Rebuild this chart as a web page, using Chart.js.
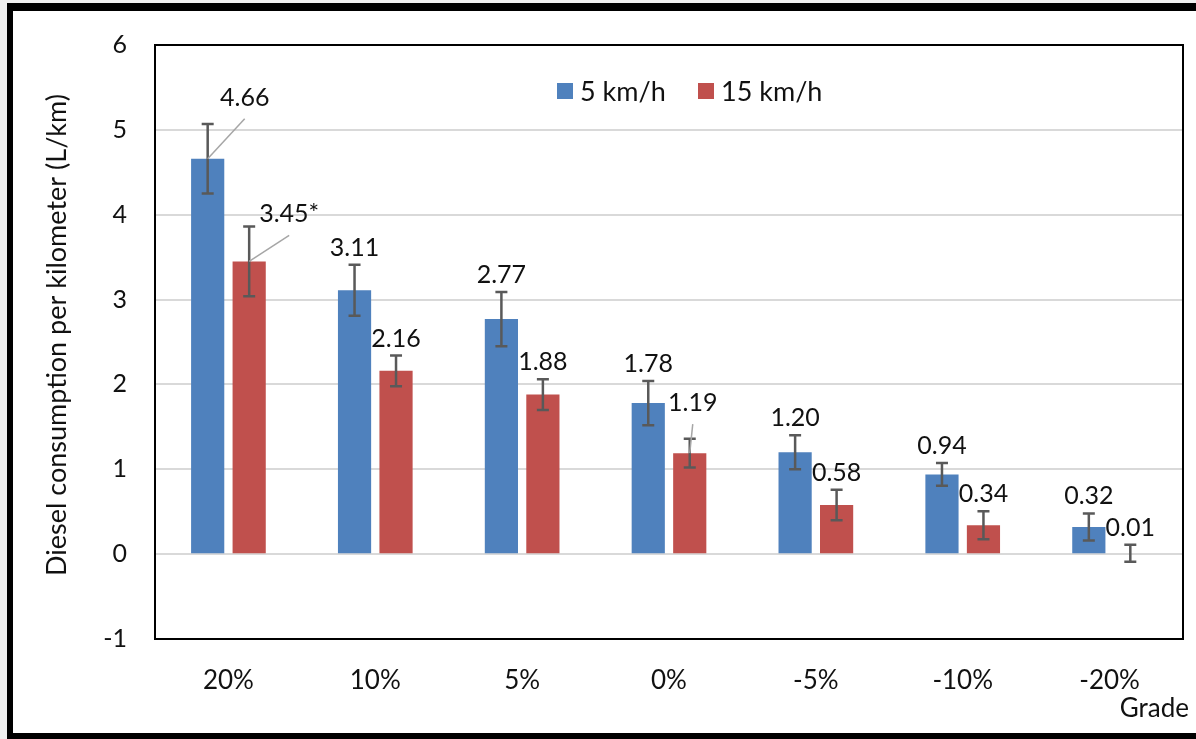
<!DOCTYPE html>
<html>
<head>
<meta charset="utf-8">
<script src="https://cdn.jsdelivr.net/npm/chart.js@4.4.1/dist/chart.umd.min.js"></script>
<style>
  html, body { margin: 0; padding: 0; background: #f0f0f0; }
  #wrap { width: 1196px; height: 739px; }
</style>
</head>
<body>
<div id="wrap"><canvas id="c" width="1196" height="739"></canvas></div>
<script>
// Road grades tested
const grades = ['20%', '10%', '5%', '0%', '-5%', '-10%', '-20%'];
// Mean diesel use (L/km) at each travel speed
const slowSpeed = [4.66, 3.11, 2.77, 1.78, 1.20, 0.94, 0.32];
const fastSpeed = [3.45, 2.16, 1.88, 1.19, 0.58, 0.34, 0.01];
// Error bar half-widths (L/km)
const slowError = [0.41, 0.30, 0.32, 0.26, 0.20, 0.135, 0.16];
const fastError = [0.41, 0.18, 0.18, 0.17, 0.18, 0.165, 0.10];
// Significance markers appended to value labels
const slowNotes = ['', '', '', '', '', '', ''];
const fastNotes = ['*', '', '', '', '', '', ''];
// Axis ticks
const yTicks = [-1, 0, 1, 2, 3, 4, 5, 6];

const FONT = 'Lato, "Open Sans", sans-serif';
const errors = [slowError, fastError];
const notes = [slowNotes, fastNotes];

// Labels that sit off to the side with a leader line: [dataset, index, dx, dy]
const callouts = [[0, 0, 37, -61], [1, 0, 40, -47], [1, 3, 3, -50]];

const framePlugin = {
  id: 'frame',
  beforeDraw(chart) {
    const ctx = chart.ctx;
    const W = chart.width, H = chart.height;
    ctx.save();
    ctx.fillStyle = '#f0f0f0';
    ctx.fillRect(0, 0, W, H);
    ctx.fillStyle = '#000';
    ctx.fillRect(7, 3, W - 7, H - 3);
    ctx.fillStyle = '#fff';
    ctx.fillRect(13, 11, W - 13, H - 6 - 11);
    ctx.restore();
  },
  beforeDatasetsDraw(chart) {
    const { ctx, chartArea: a } = chart;
    ctx.save();
    ctx.strokeStyle = '#000';
    ctx.lineWidth = 2;
    ctx.strokeRect(a.left, a.top, a.right - a.left, a.bottom - a.top);
    ctx.restore();
  },
  afterDatasetsDraw(chart) {
    const ctx = chart.ctx;
    const y = chart.scales.y;
    ctx.save();
    // error bars
    ctx.strokeStyle = '#595959';
    ctx.lineWidth = 2.5;
    chart.data.datasets.forEach((ds, di) => {
      chart.getDatasetMeta(di).data.forEach((bar, i) => {
        const v = ds.data[i], e = errors[di][i];
        const yt = y.getPixelForValue(v + e), yb = y.getPixelForValue(v - e);
        const x = bar.x;
        ctx.beginPath();
        ctx.moveTo(x, yt); ctx.lineTo(x, yb);
        ctx.moveTo(x - 6, yt); ctx.lineTo(x + 6, yt);
        ctx.moveTo(x - 6, yb); ctx.lineTo(x + 6, yb);
        ctx.stroke();
      });
    });
    // value labels
    ctx.font = '25px ' + FONT;
    ctx.fillStyle = '#111';
    ctx.textAlign = 'center';
    ctx.textBaseline = 'middle';
    chart.data.datasets.forEach((ds, di) => {
      chart.getDatasetMeta(di).data.forEach((bar, i) => {
        const v = ds.data[i], e = errors[di][i];
        const text = v.toFixed(2) + notes[di][i];
        const c = callouts.find(k => k[0] === di && k[1] === i);
        let lx, ly;
        if (c) {
          const top = y.getPixelForValue(v);
          lx = bar.x + c[2];
          ly = top + c[3];
          ctx.save();
          ctx.strokeStyle = '#a6a6a6';
          ctx.lineWidth = 1.5;
          ctx.beginPath();
          ctx.moveTo(bar.x, top);
          ctx.lineTo(lx, ly + 21);
          ctx.stroke();
          ctx.restore();
        } else {
          lx = bar.x;
          ly = y.getPixelForValue(v + e) - 17;
        }
        ctx.fillText(text, lx, ly);
      });
    });
    ctx.restore();
  },
  afterDraw(chart) {
    const { ctx } = chart;
    ctx.save();
    ctx.fillStyle = '#111';
    ctx.font = '27px ' + FONT;
    // legend
    const items = [
      { x: 557, color: chart.data.datasets[0].backgroundColor, text: chart.data.datasets[0].label },
      { x: 698, color: chart.data.datasets[1].backgroundColor, text: chart.data.datasets[1].label }
    ];
    ctx.textBaseline = 'middle';
    ctx.textAlign = 'left';
    items.forEach(it => {
      ctx.fillStyle = it.color;
      ctx.fillRect(it.x, 83, 16, 16);
      ctx.fillStyle = '#111';
      ctx.fillText(it.text, it.x + 23, 92);
    });
    // x axis title
    ctx.font = '26px ' + FONT;
    ctx.textAlign = 'right';
    ctx.fillText('Grade', 1189, 709);
    // y axis title
    ctx.font = '27px ' + FONT;
    ctx.translate(57, 335);
    ctx.rotate(-Math.PI / 2);
    ctx.textAlign = 'center';
    ctx.fillText('Diesel consumption per kilometer (L/km)', 0, 0);
    ctx.restore();
  }
};

new Chart(document.getElementById('c'), {
  type: 'bar',
  data: {
    labels: grades,
    datasets: [
      { label: '5 km/h', data: slowSpeed, backgroundColor: '#4f81bd', barPercentage: 0.8, categoryPercentage: 0.565 },
      { label: '15 km/h', data: fastSpeed, backgroundColor: '#c0504d', barPercentage: 0.8, categoryPercentage: 0.565 }
    ]
  },
  options: {
    responsive: false,
    animation: false,
    devicePixelRatio: 1,
    layout: { padding: { left: 13, top: 45, right: 13, bottom: 0 } },
    plugins: { legend: { display: false }, tooltip: { enabled: false } },
    scales: {
      x: {
        grid: { display: false },
        border: { display: false },
        ticks: { color: '#111', font: { family: FONT, size: 26 }, padding: 18 },
        afterFit(s) { s.height = 100; }
      },
      y: {
        min: yTicks[0],
        max: yTicks[yTicks.length - 1],
        afterBuildTicks(s) { s.ticks = yTicks.map(v => ({ value: v })); },
        grid: { color: '#d9d9d9', lineWidth: 2, drawTicks: false },
        border: { display: false },
        ticks: { color: '#111', font: { family: FONT, size: 25 }, padding: 28 },
        afterFit(s) { s.width = 142; }
      }
    }
  },
  plugins: [framePlugin]
});
</script>
</body>
</html>
